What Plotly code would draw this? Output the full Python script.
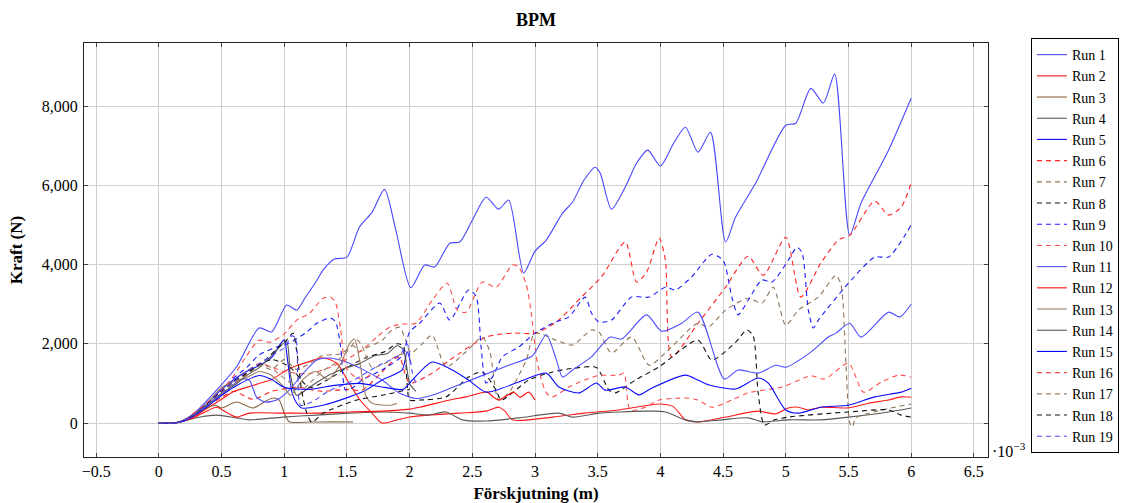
import plotly.graph_objects as go

# ---- data (x in 10^-3 m, y in N) ----
run1_x = [0, 0.12, 0.2, 0.3, 0.46, 0.62, 0.8, 0.9, 1.02, 1.1, 1.16, 1.26, 1.31, 1.4, 1.5, 1.6, 1.7, 1.8, 1.89, 2.01, 2.12, 2.2, 2.32, 2.4, 2.5, 2.61, 2.71, 2.79, 2.91, 3.0, 3.09, 3.22, 3.3, 3.39, 3.48, 3.52, 3.61, 3.72, 3.81, 3.9, 4.0, 4.11, 4.2, 4.3, 4.4, 4.52, 4.6, 4.76, 5.0, 5.08, 5.2, 5.3, 5.39, 5.51, 5.6, 5.82, 6.0]
run1_y = [0, 0, 80, 300, 830, 1420, 2400, 2300, 2980, 2850, 3130, 3600, 3860, 4140, 4190, 4950, 5320, 5900, 4870, 3415, 3990, 3940, 4540, 4570, 5120, 5700, 5400, 5630, 3790, 4340, 4620, 5300, 5580, 6130, 6460, 6310, 5400, 5960, 6560, 6890, 6490, 7090, 7470, 6840, 7340, 4570, 5200, 6060, 7520, 7570, 8450, 8080, 8810, 4740, 5550, 6890, 8200]

run2_x = [0, 0.12, 0.2, 0.3, 0.4, 0.5, 0.6, 0.7, 0.8, 0.9, 1.0, 1.1, 1.2, 1.3, 1.42, 1.5, 1.6, 1.7, 1.78, 1.9, 2.0, 2.15, 2.4, 2.61, 2.71, 2.76, 2.82, 3.14, 3.4, 3.67, 3.99, 4.1, 4.2, 4.3, 4.52, 4.78, 4.92, 5.02, 5.1, 5.18, 5.28, 5.5, 5.66, 5.82, 5.92, 6.0]
run2_y = [0, 0, 50, 200, 400, 600, 800, 900, 1000, 1100, 1300, 1450, 1550, 1650, 1510, 1100, 600, 250, 0, 80, 150, 200, 250, 300, 400, 300, 80, 150, 250, 330, 480, 420, 80, 30, 150, 300, 230, 380, 400, 330, 400, 380, 500, 580, 660, 650]

run3_x = [0, 0.12, 0.2, 0.3, 0.38, 0.45, 0.5, 0.62, 0.75, 0.85, 0.91, 0.96, 1.0, 1.04, 1.2, 1.4, 1.55]
run3_y = [0, 0, 60, 220, 380, 450, 380, 530, 380, 550, 630, 580, 250, 30, 25, 30, 25]

run4_x = [0, 0.12, 0.2, 0.33, 0.46, 0.62, 0.72, 0.99, 1.26, 1.52, 1.78, 2.0, 2.15, 2.29, 2.42, 2.61, 2.87, 3.19, 3.3, 3.51, 3.67, 3.93, 4.04, 4.2, 4.3, 4.49, 4.7, 4.81, 5.02, 5.28, 5.5, 5.82, 6.0]
run4_y = [0, 0, 50, 150, 200, 130, 80, 150, 200, 250, 280, 250, 200, 280, 80, 50, 130, 250, 150, 250, 280, 300, 280, 80, 30, 80, 130, 30, 80, 80, 150, 280, 380]

run5_x = [0, 0.12, 0.2, 0.3, 0.4, 0.5, 0.6, 0.7, 0.8, 0.9, 0.97, 1.0, 1.03, 1.06, 1.1, 1.14, 1.31, 1.52, 1.65, 1.78, 1.94, 1.98, 2.01]
run5_y = [0, 0, 60, 270, 550, 850, 1100, 1300, 1450, 1650, 2000, 2100, 1500, 800, 500, 380, 450, 660, 830, 1085, 1340, 1800, 1500]

run6_x = [0, 0.12, 0.2, 0.3, 0.4, 0.5, 0.6, 0.75, 0.9, 1.1, 1.3, 1.5, 1.62, 1.78, 1.89, 1.92, 2.0, 2.18, 2.32, 2.61, 2.82, 3.0, 3.17, 3.37, 3.53, 3.72, 3.81, 3.89, 3.99, 4.04, 4.09, 4.3, 4.52, 4.7, 4.82, 5.0, 5.12, 5.28, 5.42, 5.51, 5.71, 5.82, 5.92, 6.0]
run6_y = [0, 0, 50, 220, 450, 650, 800, 600, 800, 900, 800, 850, 830, 1290, 1640, 1660, 1010, 1260, 1590, 2170, 2270, 2270, 2550, 3180, 3690, 4570, 3560, 3810, 4670, 4110, 1670, 2520, 3430, 4210, 3730, 4690, 3180, 4040, 4620, 4740, 5600, 5250, 5450, 6060]

run7_x = [0, 0.12, 0.2, 0.3, 0.4, 0.5, 0.6, 0.7, 0.8, 0.9, 1.0, 1.1, 1.2, 1.3, 1.45, 1.55, 1.6, 1.65, 1.78, 1.86, 1.92, 1.96, 2.01, 2.1, 2.18, 2.29, 2.45, 2.58, 2.64, 2.71, 2.79, 2.93, 3.0, 3.17, 3.3, 3.45, 3.51, 3.61, 3.77, 3.91, 4.04, 4.3, 4.38, 4.52, 4.7, 4.81, 4.9, 5.0, 5.1, 5.26, 5.4, 5.44, 5.48, 5.51, 5.53, 5.56, 5.7, 6.0]
run7_y = [0, 0, 60, 250, 500, 750, 1000, 1250, 1450, 1350, 1600, 1350, 1500, 1700, 1750, 1950, 1800, 1890, 2090, 2350, 2420, 2170, 1770, 2000, 2220, 1420, 1800, 2170, 1800, 580, 760, 1590, 2270, 2090, 1970, 2350, 2300, 1770, 2170, 1460, 1770, 2520, 2420, 2850, 3150, 3030, 3430, 2470, 2850, 3180, 3730, 3500, 1510, 0, -100, 130, 280, 480]

run8_x = [0, 0.12, 0.2, 0.3, 0.5, 0.7, 0.9, 1.05, 1.2, 1.35, 1.5, 1.65, 1.8, 1.9, 1.95, 1.98, 2.0, 2.08, 2.29, 2.47, 2.58, 2.69, 2.73, 2.95, 3.14, 3.3, 3.49, 3.59, 3.64, 3.8, 3.99, 4.3, 4.41, 4.6, 4.69, 4.74, 4.78, 4.83, 4.91, 5.02, 5.5, 5.82, 5.92, 6.0]
run8_y = [0, 0, 60, 250, 800, 1300, 1600, 1400, 900, 1100, 1400, 1650, 1800, 2000, 1950, 1000, 580, 580, 660, 1160, 1290, 830, 580, 1085, 1290, 1380, 1400, 830, 760, 1085, 1420, 2090, 1590, 2040, 2350, 2200, 760, -50, 80, 150, 280, 330, 200, 150]

run9_x = [0, 0.12, 0.2, 0.3, 0.4, 0.5, 0.6, 0.7, 0.8, 0.94, 1.04, 1.18, 1.26, 1.37, 1.41, 1.45, 1.49, 1.55, 1.62, 1.78, 1.94, 2.0, 2.08, 2.24, 2.32, 2.47, 2.53, 2.57, 2.61, 2.66, 2.74, 2.87, 3.0, 3.14, 3.27, 3.4, 3.45, 3.51, 3.61, 3.77, 3.91, 4.04, 4.12, 4.25, 4.41, 4.5, 4.57, 4.62, 4.7, 4.81, 4.89, 5.02, 5.09, 5.13, 5.18, 5.22, 5.26, 5.5, 5.71, 5.82, 6.0]
run9_y = [0, 0, 60, 260, 550, 850, 1150, 1400, 1720, 1920, 2020, 2300, 2520, 2650, 2550, 1920, 830, 900, 1085, 1340, 1700, 2300, 2520, 3030, 2600, 3360, 3200, 1920, 1010, 1160, 1670, 1920, 2270, 2520, 2680, 3180, 2780, 2550, 2600, 3180, 3180, 3430, 3360, 3690, 4260, 4110, 3180, 2730, 3100, 3610, 3560, 4110, 4440, 4300, 2850, 2400, 2600, 3530, 4190, 4190, 5000]

run10_x = [0, 0.12, 0.2, 0.3, 0.4, 0.5, 0.6, 0.7, 0.8, 1.0, 1.2, 1.4, 1.6, 1.75, 1.84, 1.94, 2.05, 2.18, 2.3, 2.38, 2.45, 2.58, 2.69, 2.82, 2.87, 2.93, 2.97, 3.02, 3.09, 3.14, 3.27, 3.4, 3.51, 3.67, 3.71, 3.76, 3.88, 3.99, 4.2, 4.3, 4.41, 4.57, 4.7, 4.97, 5.2, 5.31, 5.5, 5.62, 5.76, 5.9, 6.0]
run10_y = [0, 0, 60, 240, 500, 800, 1050, 1300, 1500, 1300, 1250, 1450, 1800, 2200, 2420, 2500, 2520, 3100, 3530, 2850, 2800, 3560, 3430, 3990, 3940, 3500, 2780, 1500, 760, 660, 910, 1090, 1200, 1210, 1260, 330, 400, 580, 630, 580, 400, 580, 760, 910, 1190, 1110, 1510, 780, 1030, 1210, 1160]

run11_x = [0, 0.12, 0.2, 0.3, 0.4, 0.5, 0.65, 0.72, 0.78, 0.85, 0.94, 1.04, 1.15, 1.26, 1.36, 1.52, 1.78, 1.92, 2.05, 2.2, 2.42, 2.66, 2.79, 2.98, 3.09, 3.17, 3.22, 3.3, 3.45, 3.6, 3.69, 3.89, 4.01, 4.17, 4.3, 4.51, 4.62, 4.78, 4.92, 5.0, 5.2, 5.34, 5.4, 5.51, 5.6, 5.82, 5.91, 6.0]
run11_y = [0, 0, 60, 250, 480, 700, 1100, 1085, 650, 530, 580, 830, 1250, 1590, 1640, 1510, 1085, 750, 620, 720, 1000, 1300, 1460, 1700, 2230, 1600, 1160, 1340, 1670, 2170, 2120, 2730, 2320, 2520, 2800, 1110, 1340, 1260, 1460, 1410, 1790, 2170, 2270, 2520, 2170, 2800, 2680, 3000]

run12_x = [0, 0.12, 0.25, 0.35, 0.46, 0.55, 0.62, 0.72, 0.99, 1.26, 1.52, 1.78, 2.0, 2.08, 2.32, 2.45, 2.62, 2.67, 2.71, 2.78, 2.83, 2.88, 2.95, 3.0]
run12_y = [0, 0, 100, 250, 400, 250, 150, 250, 250, 250, 280, 300, 350, 400, 580, 660, 780, 650, 580, 700, 780, 650, 780, 580]

run13_x = [0, 0.12, 0.2, 0.3, 0.4, 0.5, 0.6, 0.7, 0.8, 0.9, 1.0, 1.05, 1.15, 1.25, 1.35, 1.45, 1.52, 1.56, 1.6, 1.65, 1.7, 1.85, 1.9]
run13_y = [0, 0, 60, 250, 550, 900, 1050, 1150, 1300, 1200, 900, 700, 1100, 1300, 1100, 1500, 2000, 2120, 1600, 700, 500, 450, 500]

run14_x = [0, 0.12, 0.2, 0.3, 0.4, 0.5, 0.6, 0.7, 0.8, 0.9, 0.97, 1.02, 1.05, 1.1, 1.2, 1.35, 1.5, 1.6, 1.72, 1.82, 1.9, 1.95, 2.0, 2.05]
run14_y = [0, 0, 60, 260, 500, 750, 950, 1200, 1400, 1700, 1950, 2050, 1200, 700, 900, 1200, 1400, 1500, 1700, 1750, 1950, 1850, 1000, 800]

run15_x = [0, 0.12, 0.2, 0.3, 0.4, 0.5, 0.65, 0.8, 0.9, 1.0, 1.2, 1.4, 1.6, 1.8, 1.95, 2.0, 2.18, 2.34, 2.47, 2.61, 2.87, 3.09, 3.19, 3.35, 3.49, 3.56, 3.72, 3.83, 3.93, 4.2, 4.3, 4.39, 4.6, 4.78, 4.86, 5.0, 5.1, 5.28, 5.5, 5.71, 5.92, 6.0]
run15_y = [0, 0, 50, 220, 450, 700, 1000, 1200, 1100, 900, 850, 950, 1000, 900, 850, 1010, 1540, 1340, 1085, 780, 1035, 1260, 910, 760, 1010, 830, 910, 710, 880, 1210, 1085, 960, 860, 1135, 1010, 330, 250, 400, 450, 660, 780, 880]

run16_x = [0, 0.12, 0.2, 0.3, 0.4, 0.46, 0.55, 0.62, 0.7, 0.8, 0.88, 0.99, 1.1, 1.2, 1.31, 1.37, 1.41, 1.45, 1.49, 1.55, 1.62, 1.7]
run16_y = [0, 0, 70, 300, 550, 700, 1000, 1300, 1700, 2090, 2040, 2220, 2600, 2770, 3150, 3180, 3030, 2350, 1420, 1200, 1100, 1250]

run17_x = [0, 0.12, 0.2, 0.3, 0.4, 0.5, 0.6, 0.7, 0.8, 0.9, 0.95, 1.05, 1.1, 1.2, 1.3, 1.4, 1.5, 1.58, 1.62, 1.7, 1.8, 1.9, 2.0]
run17_y = [0, 0, 60, 240, 480, 750, 1000, 1200, 1450, 1400, 1250, 1000, 700, 1000, 1300, 1500, 1800, 2100, 1950, 1400, 1500, 1700, 1800]

run18_x = [0, 0.12, 0.2, 0.3, 0.4, 0.5, 0.6, 0.7, 0.85, 0.95, 1.02, 1.07, 1.1, 1.14, 1.18, 1.22, 1.31, 1.58, 1.78, 2.0]
run18_y = [0, 0, 60, 250, 520, 800, 1050, 1250, 1600, 1900, 2100, 2270, 1800, 800, 250, 20, 250, 580, 700, 850]

run19_x = [0, 0.12, 0.2, 0.3, 0.4, 0.5, 0.6, 0.7, 0.8, 0.9, 1.0, 1.06, 1.09, 1.11, 1.13, 1.22, 1.35, 1.5, 1.62, 1.75, 1.85, 1.93, 1.98, 2.02, 2.05]
run19_y = [0, 0, 60, 250, 500, 780, 1050, 1300, 1500, 1700, 1900, 2200, 2150, 1000, 450, 530, 800, 1000, 1200, 1450, 1600, 1750, 2000, 1300, 1000]

run_names = ["Run %d" % i for i in range(1, 20)]
x_ticks = [-0.5, 0, 0.5, 1, 1.5, 2, 2.5, 3, 3.5, 4, 4.5, 5, 5.5, 6, 6.5]
x_tick_text = ["\u22120.5", "0", "0.5", "1", "1.5", "2", "2.5", "3", "3.5", "4", "4.5", "5", "5.5", "6", "6.5"]
y_ticks = [0, 2000, 4000, 6000, 8000]

# ---- styles ----
run_colors = ["#4747ff", "#ff1a1a", "#8a6440", "#5a5a5a", "#1010ff",
              "#ff2020", "#8f7356", "#111111", "#1a1aff", "#ff4d4d",
              "#4d4dff", "#ff1010", "#9c8066", "#555555", "#0a0aff",
              "#ff4a4a", "#9c8066", "#111111", "#4d4dff"]
run_dash = ["solid", "solid", "solid", "solid", "solid",
            "5px,4px", "5px,4px", "5px,4px", "5px,4px", "5px,4px",
            "solid", "solid", "solid", "solid", "solid",
            "5px,4px", "5px,4px", "5px,4px", "5px,4px"]

xs = [run1_x, run2_x, run3_x, run4_x, run5_x, run6_x, run7_x, run8_x, run9_x, run10_x,
      run11_x, run12_x, run13_x, run14_x, run15_x, run16_x, run17_x, run18_x, run19_x]
ys = [run1_y, run2_y, run3_y, run4_y, run5_y, run6_y, run7_y, run8_y, run9_y, run10_y,
      run11_y, run12_y, run13_y, run14_y, run15_y, run16_y, run17_y, run18_y, run19_y]

fig = go.Figure()
for name, x, y, c, d in zip(run_names, xs, ys, run_colors, run_dash):
    fig.add_trace(go.Scatter(x=x, y=y, name=name, mode="lines",
                             line=dict(color=c, width=1.1, dash=d, shape="spline", smoothing=0.7)))

FONT = "Liberation Serif"
axis_common = dict(showgrid=True, gridcolor="#cfcfcf", gridwidth=1, zeroline=False,
                   showline=True, linecolor="#222222", linewidth=1, mirror="ticks",
                   ticks="inside", ticklen=4, tickcolor="#444444", automargin=False,
                   tickfont=dict(family=FONT, size=16, color="black"))

fig.update_layout(
    width=1131, height=503,
    margin=dict(l=84, r=141, t=43, b=46),
    plot_bgcolor="white", paper_bgcolor="white",
    font=dict(family=FONT, size=16, color="black"),
    title=dict(text="<b>BPM</b>", x=0.5, xref="paper", xanchor="center",
               y=1 - 20 / 503, yref="container", yanchor="middle",
               font=dict(family=FONT, size=18, color="black")),
    legend=dict(x=1.0475, xanchor="left", y=1.012, yanchor="top",
                bordercolor="black", borderwidth=1, bgcolor="white",
                font=dict(family=FONT, size=14, color="black"),
                tracegroupgap=0, itemwidth=30, maxheight=480),
    xaxis=dict(range=[-0.597, 6.613], tickvals=x_ticks, ticktext=x_tick_text,
               ticklabelstandoff=0,
               title=dict(text="<b>Förskjutning (m)</b>", standoff=16,
                          font=dict(family=FONT, size=17, color="black")),
               **axis_common),
    yaxis=dict(range=[-858, 9596], tickvals=y_ticks, tickformat=",",
               ticklabelstandoff=2,
               title=dict(text="<b>Kraft (N)</b>", standoff=14,
                          font=dict(family=FONT, size=17, color="black")),
               **axis_common),
)

fig.add_annotation(text="\u00b710<sup>\u22123</sup>", xref="paper", yref="paper",
                   x=1.002, y=0.017, xanchor="left", yanchor="middle", showarrow=False,
                   font=dict(family=FONT, size=16, color="black"))

fig.write_html("out.html")
